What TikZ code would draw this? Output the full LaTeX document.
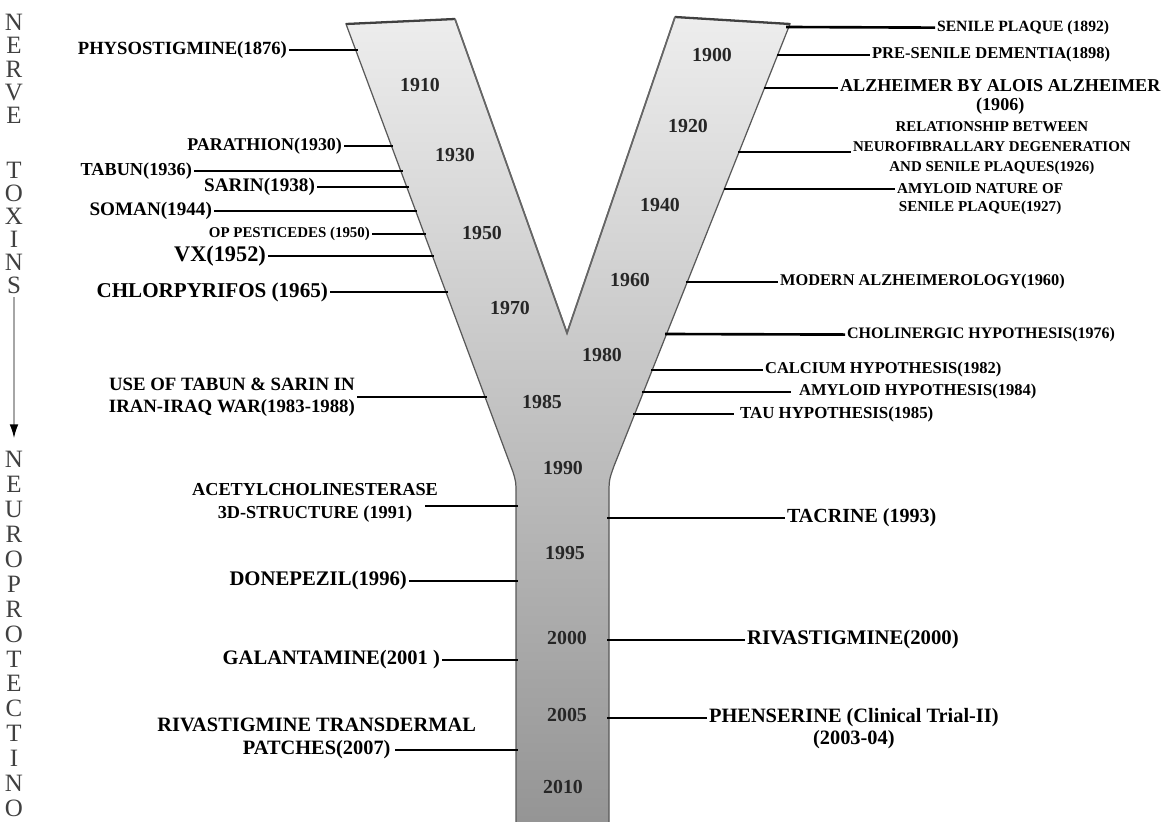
\documentclass[tikz,border=0pt]{standalone}
\usepackage{fontspec}
\setmainfont{Liberation Serif}
\usetikzlibrary{arrows.meta}

\tikzset{
  lab/.style 2 args={font=\bfseries\fontsize{#1}{#2}\selectfont, inner sep=1pt, align=center},
  yr/.style={font=\bfseries\fontsize{11.3}{13}\selectfont, text=black!85},
  tie/.style={line width=1.5pt},
  vword/.style={font=\fontsize{14.2}{#1}\selectfont, align=center, inner sep=0pt, text=black!75},
}

\begin{document}
\begin{tikzpicture}[x=0.02cm,y=-0.02cm]
    \useasboundingbox (0,0) rectangle (1162,821);

    % the Y
    \shadedraw[top color=black!7, bottom color=black!42, draw=black!65, line width=0.7pt]
        (346,24) -- (455,19) -- (567,333) -- (675,17) -- (790,24) -- (614,466)
        .. controls (609,480) .. (609,496) -- (609,830) -- (516,830) -- (516,496)
        .. controls (516,482) .. (513,472) -- cycle;
    \draw[line width=1.3pt, black!75] (346,24) -- (455,19);
    \draw[line width=1.3pt, black!75] (675,17) -- (790,24);
    \draw[line width=1pt, black!60] (455,19) -- (567,333) -- (675,17);

    \node[yr] (t1910) at (420,85) {1910};
    \node[yr] (t1930) at (455,155) {1930};
    \node[yr] (t1950) at (482,233) {1950};
    \node[yr] (t1970) at (510,308) {1970};
    \node[yr] (t1900) at (712,55) {1900};
    \node[yr] (t1920) at (688,126) {1920};
    \node[yr] (t1940) at (660,205) {1940};
    \node[yr] (t1960) at (630,280) {1960};
    \node[yr] (t1980) at (602,355) {1980};
    \node[yr] (t1985) at (542,402) {1985};
    \node[yr] (t1990) at (563,468) {1990};
    \node[yr] (t1995) at (565,553) {1995};
    \node[yr] (t2000) at (567,638) {2000};
    \node[yr] (t2005) at (567,715) {2005};
    \node[yr] (t2010) at (563,787) {2010};

    % side words
    \node[vword=13.2] (nerve) at (14,69) {N\\E\\R\\V\\E};
    \node[vword=13.0] (toxins) at (14,228) {T\\O\\X\\I\\N\\S};
    \node[vword=14.2] (neuro) at (14,634) {N\\E\\U\\R\\O\\P\\R\\O\\T\\E\\C\\T\\I\\N\\O};
    \draw[gray!70, line width=1.1pt, shorten <=2pt, shorten >=7pt,
        -{Latex[color=black, length=8pt, width=5pt]}] (toxins.south) -- (neuro.north);

    % nerve toxins side
    \coordinate (ePhys) at (358,50);
    \coordinate (ePara) at (393,146);
    \coordinate (eTabun) at (403,171);
    \coordinate (eSarin) at (409,187);
    \coordinate (eSoman) at (417,211);
    \coordinate (eOp) at (426,234);
    \coordinate (eVx) at (434,256);
    \coordinate (eChlor) at (448,292);
    \coordinate (eWar) at (487,397);
    \coordinate (eAche) at (518,506);
    \coordinate (eDone) at (518,581);
    \coordinate (eGalan) at (518,660);
    \coordinate (ePatch) at (518,750);

    \node[lab={10.6}{12}, anchor=east] (phys) at (289,50) {PHYSOSTIGMINE(1876)};
    \node[lab={10.2}{12}, anchor=east] (para) at (344,146) {PARATHION(1930)};
    \node[lab={10.4}{12}, anchor=east] (tabun) at (194,171) {TABUN(1936)};
    \node[lab={10.9}{12}, anchor=east] (sarin) at (317,187) {SARIN(1938)};
    \node[lab={10.9}{12}, anchor=east] (soman) at (214,211) {SOMAN(1944)};
    \node[lab={8.5}{10}, anchor=east] (op) at (372,234) {OP PESTICEDES (1950)};
    \node[lab={12.7}{14}, anchor=east] (vx) at (268,256) {VX(1952)};
    \node[lab={12}{14}, anchor=east] (chlor) at (330,292) {CHLORPYRIFOS (1965)};
    \node[lab={10.7}{12.5}, anchor=east] (war) at (357,397) {USE OF TABUN \& SARIN IN\\IRAN-IRAQ WAR(1983-1988)};
    \node[lab={10.4}{13}, anchor=east] (ache) at (440,503) {ACETYLCHOLINESTERASE\\3D-STRUCTURE (1991)};
    \node[lab={11.8}{13}, anchor=east] (done) at (409,581) {DONEPEZIL(1996)};
    \node[lab={11.7}{13}, anchor=east] (galan) at (442,660) {GALANTAMINE(2001 )};
    \node[lab={11.6}{13}, anchor=east] (patch) at (478,738) {RIVASTIGMINE TRANSDERMAL\\PATCHES(2007)};

    \draw[tie] (phys) -- (ePhys);
    \draw[tie] (para) -- (ePara);
    \draw[tie] (tabun) -- (eTabun);
    \draw[tie] (sarin) -- (eSarin);
    \draw[tie] (soman) -- (eSoman);
    \draw[tie] (op) -- (eOp);
    \draw[tie] (vx) -- (eVx);
    \draw[tie] (chlor) -- (eChlor);
    \draw[tie] (war) -- (eWar);
    \draw[tie] ([xshift=-0.3cm]ache.east |- eAche) -- (eAche);
    \draw[tie] (done) -- (eDone);
    \draw[tie] (galan) -- (eGalan);
    \draw[tie] ([xshift=-1.66cm]patch.east |- ePatch) -- (ePatch);

    % alzheimer side
    \coordinate (eSenile) at (786,27);
    \coordinate (ePre) at (777,55);
    \coordinate (eAlz) at (764,88);
    \coordinate (eRel) at (738,152);
    \coordinate (eAmyNat) at (724,189);
    \coordinate (eModern) at (686,282);
    \coordinate (eChol) at (665,334);
    \coordinate (eCalc) at (651,370);
    \coordinate (eAmyHyp) at (642,392);
    \coordinate (eTau) at (633,414);
    \coordinate (eTacr) at (607,518);
    \coordinate (eRiva) at (607,640);
    \coordinate (ePhen) at (607,718);

    \node[lab={8.9}{10}, anchor=west] (senile) at (935,28) {SENILE PLAQUE (1892)};
    \node[lab={9.4}{11}, anchor=west] (pre) at (870,55) {PRE-SENILE DEMENTIA(1898)};
    \node[lab={10.3}{11.3}, anchor=west] (alz) at (838,97) {ALZHEIMER BY ALOIS ALZHEIMER\\(1906)};
    \node[lab={8.5}{11.3}, anchor=west] (rel) at (851,148) {RELATIONSHIP BETWEEN\\NEUROFIBRALLARY DEGENERATION\\AND SENILE PLAQUES(1926)};
    \node[lab={8.6}{10}, anchor=west] (amynat) at (895,199) {AMYLOID NATURE OF\\SENILE PLAQUE(1927)};
    \node[lab={9.3}{11}, anchor=west] (modern) at (778,282) {MODERN ALZHEIMEROLOGY(1960)};
    \node[lab={9.1}{11}, anchor=west] (chol) at (845,335) {CHOLINERGIC HYPOTHESIS(1976)};
    \node[lab={9.4}{11}, anchor=west] (calc) at (763,370) {CALCIUM HYPOTHESIS(1982)};
    \node[lab={9.4}{11}, anchor=west] (amyhyp) at (797,392) {AMYLOID HYPOTHESIS(1984)};
    \node[lab={9.6}{11}, anchor=west] (tau) at (738,414) {TAU HYPOTHESIS(1985)};
    \node[lab={11.4}{13}, anchor=west] (tacr) at (785,518) {TACRINE (1993)};
    \node[lab={11.8}{13}, anchor=west] (riva) at (745,640) {RIVASTIGMINE(2000)};
    \node[lab={11.6}{12.5}, anchor=west] (phen) at (707,729) {PHENSERINE (Clinical Trial-II)\\(2003-04)};

    \draw[tie] (eSenile) -- (senile);
    \draw[tie] (ePre) -- (pre);
    \draw[tie] (eAlz) -- (alz.west |- eAlz);
    \draw[tie] (eRel) -- (rel.west |- eRel);
    \draw[tie] (eAmyNat) -- (amynat.west |- eAmyNat);
    \draw[tie] (eModern) -- (modern);
    \draw[tie] (eChol) -- (chol);
    \draw[tie] (eCalc) -- (calc);
    \draw[tie] (eAmyHyp) -- ([xshift=-0.12cm]amyhyp.west);
    \draw[tie] (eTau) -- ([xshift=-0.08cm]tau.west);
    \draw[tie] (eTacr) -- (tacr);
    \draw[tie] (eRiva) -- (riva);
    \draw[tie] (ePhen) -- (phen.west |- ePhen);
\end{tikzpicture}
\end{document}
